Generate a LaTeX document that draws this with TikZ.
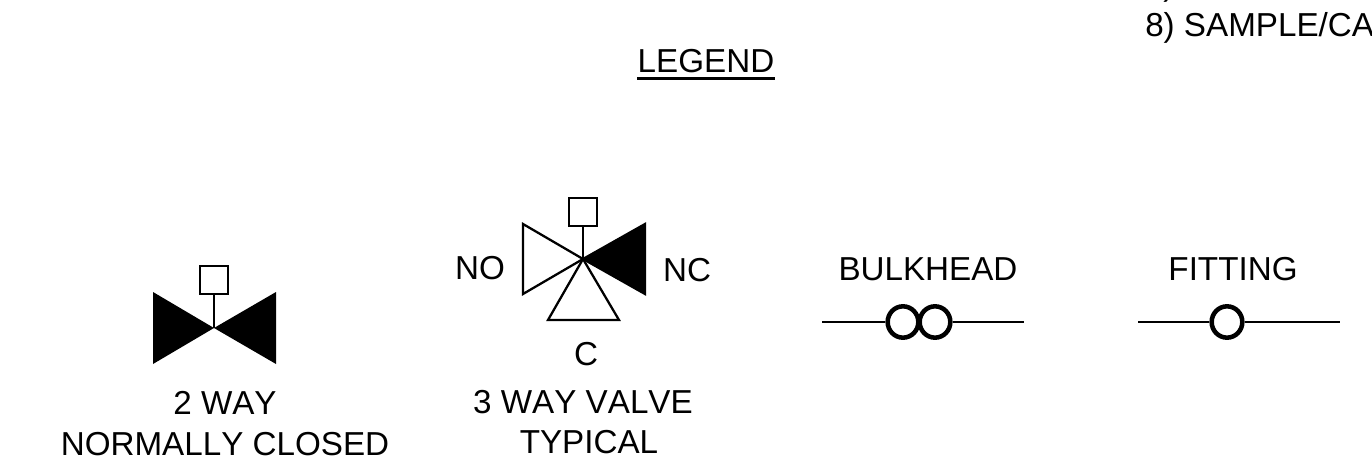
\documentclass[tikz,border=0pt]{standalone}
\usepackage{fontspec}
\setmainfont[Kerning=Off]{Liberation Sans}
\usetikzlibrary{positioning}
\usetikzlibrary{shapes.geometric}
\tikzset{
	lbl/.style = {inner sep=0pt, font=\fontsize{24.9pt}{30pt}\selectfont, align=center},
	pipe/.style = {line width=1.7pt},
	ring/.style = {line width=3.4pt, draw, ellipse, minimum width=23pt, minimum height=23.5pt, inner sep=0pt},
	stem/.style = {line width=1.7pt},
	wedge/.style = {line width=1.7pt, line join=miter},
}
\begin{document}
\begin{tikzpicture}[x=0.75pt, y=-0.75pt]
\useasboundingbox (0,0) rectangle (1372,467);
\node[lbl, anchor=base west] (prev) at (1163,-4) {)};
\node[lbl, anchor=base west] (sample) at (1145,37) {8) SAMPLE/CA};
\node[lbl, anchor=base] (legend) at (706,73) {LEGEND};
\draw[line width=2.2pt] ([yshift=-3.8pt]legend.base west) -- ([yshift=-3.8pt]legend.base east);
% 2 way
\coordinate (twomid) at (214,328);
\node[draw, stem, minimum size=21pt, inner sep=0pt] (twobox) at (214,280) {};
\draw[stem] (twobox.south) -- (twomid);
\fill (twomid) -- (153,292) -- (153,364) -- cycle;
\fill (twomid) -- (276,292) -- (276,364) -- cycle;
\node[lbl, anchor=base] (twoa) at (225,414) {2 WAY};
\node[lbl, anchor=base] (twob) at (225,455) {NORMALLY CLOSED};
% 3 way
\coordinate (threemid) at (583,259);
\node[draw, stem, minimum size=21pt, inner sep=0pt] (threebox) at (583,212) {};
\draw[stem] (threebox.south) -- (threemid);
\draw[wedge] (threemid) -- (523,224) -- (523,294) -- cycle;
\draw[wedge] (threemid) -- (548,320) -- (619,320) -- cycle;
\draw[wedge, fill=black] (threemid) -- (645,224) -- (645,294) -- cycle;
\node[lbl, anchor=base] (no) at (480,279) {NO};
\node[lbl, anchor=base] (nc) at (687,281) {NC};
\node[lbl, anchor=base] (c) at (586,365) {C};
\node[lbl, anchor=base] (threea) at (583,413) {3 WAY VALVE};
\node[lbl, anchor=base] (threeb) at (589,453) {TYPICAL};
% bulkhead
\node[lbl, anchor=base] (bulk) at (928,280) {BULKHEAD};
\coordinate (bulkl) at (822,322);
\coordinate (bulkr) at (1024,322);
\node[ring] (ringa) at (903,322) {};
\node[ring] (ringb) at (935,322) {};
\draw[pipe] (bulkl) -- (ringa.west);
\draw[pipe] (ringb.east) -- (bulkr);
% fitting
\node[lbl, anchor=base] (fit) at (1233,280) {FITTING};
\coordinate (fitl) at (1138,322);
\coordinate (fitr) at (1340,322);
\node[ring] (ringc) at (1227,322) {};
\draw[pipe] (fitl) -- (ringc.west);
\draw[pipe] (ringc.east) -- (fitr);
\end{tikzpicture}
\end{document}
